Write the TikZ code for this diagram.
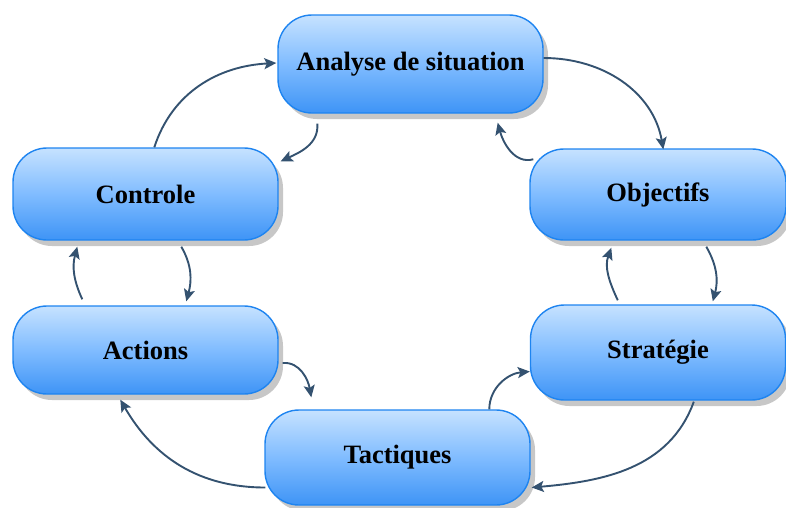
\documentclass[tikz,border=0pt]{standalone}
\usepackage{fontspec}
\setmainfont{Liberation Serif}
\usetikzlibrary{arrows.meta,shadows}
\definecolor{boxtop}{RGB}{198,226,255}
\definecolor{boxmid}{RGB}{128,188,255}
\definecolor{boxbot}{RGB}{62,148,246}
\definecolor{boxline}{RGB}{30,132,240}
\definecolor{arrowc}{RGB}{52,82,112}
\tikzset{
  box/.style={rounded corners=34pt, draw=boxline, line width=1.4pt,
    top color=boxtop, bottom color=boxbot, middle color=boxmid,
    minimum width=265pt, inner sep=0pt,
    font=\fontsize{26.5}{30}\selectfont\bfseries,
    drop shadow={shadow xshift=5pt, shadow yshift=-6pt, opacity=0.22, fill=black}},
  link/.style={draw=arrowc, line width=1.9pt, -{Stealth[length=12pt,width=11pt,inset=2.5pt]}}
}
\begin{document}
\begin{tikzpicture}[x=1pt,y=-1pt]
\useasboundingbox (0,0) rectangle (786,507);
\node[box, minimum height=98pt] (an) at (410.5,64) {Analyse de situation};
\node[box, minimum height=92pt] (co) at (145.5,194) {Controle};
\node[box, minimum height=88pt] (ac) at (145.5,350) {Actions};
\node[box, minimum height=95pt] (ta) at (397.5,457.5) {Tactiques};
\node[box, minimum width=256pt, minimum height=91pt] (ob) at (658,194.5) {Objectifs};
\node[box, minimum width=255pt, minimum height=95pt] (st) at (658,352.5) {Stratégie};

% Controle -> Analyse
\draw[link] ([xshift=142pt]co.north west) to[out=72,in=183] ([xshift=-1pt,yshift=1pt]an.west);
% Analyse -> Controle
\draw[link] ([xshift=40pt,yshift=-10pt]an.south west) to[out=-85,in=25] ([xshift=2pt,yshift=-14pt]co.north east);
% Analyse -> Objectifs
\draw[link] ([yshift=6pt]an.east) to[out=0,in=100] ([xshift=134pt,yshift=-1pt]ob.north west);
% Objectifs -> Analyse
\draw[link] ([xshift=4pt,yshift=-11pt]ob.north west) to[out=195,in=-75] ([xshift=-46pt,yshift=-9pt]an.south east);
% Objectifs -> Strategie
\draw[link] ([xshift=177pt,yshift=-6pt]ob.south west) to[out=-60,in=75] ([xshift=183pt,yshift=3pt]st.north west);
% Strategie -> Objectifs
\draw[link] ([xshift=88pt,yshift=4pt]st.north west) to[out=115,in=-110] ([xshift=82pt,yshift=-7pt]ob.south west);
% Controle -> Actions
\draw[link] ([xshift=169pt,yshift=-6pt]co.south west) to[out=-60,in=75] ([xshift=174pt,yshift=4pt]ac.north west);
% Actions -> Controle
\draw[link] ([xshift=70pt,yshift=6pt]ac.north west) to[out=115,in=-105] ([xshift=65pt,yshift=-6pt]co.south west);
% Actions -> Tactiques
\draw[link] ([xshift=4pt,yshift=-13pt]ac.east) to[out=5,in=100] ([xshift=47pt,yshift=12pt]ta.north west);
% Tactiques -> Strategie
\draw[link] ([xshift=225pt]ta.north west) to[out=90,in=185] ([yshift=-19pt]st.west);
% Strategie -> Tactiques
\draw[link] ([xshift=164pt,yshift=-1pt]st.south west) to[out=-110,in=5] ([xshift=1pt,yshift=-30pt]ta.east);
% Tactiques -> Actions
\draw[link] ([xshift=1pt,yshift=-30pt]ta.west) to[out=180,in=-60] ([xshift=108pt,yshift=-5pt]ac.south west);
\end{tikzpicture}
\end{document}
